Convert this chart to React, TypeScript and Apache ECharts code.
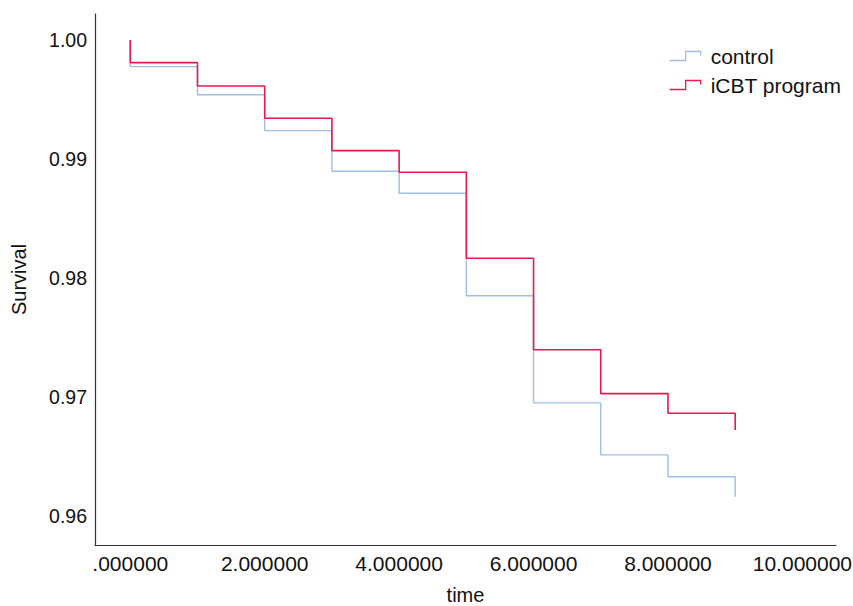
import React, { useEffect, useRef } from "react";
import * as echarts from "echarts";

const times = [0, 1, 2, 3, 4, 5, 6, 7, 8, 9];
const startSurvival = 1.0;
const controlSurvival = [0.99776, 0.9954, 0.99238, 0.98897, 0.98712, 0.97851, 0.9695, 0.96513, 0.9633, 0.96162];
const icbtSurvival = [0.99809, 0.99613, 0.99342, 0.9907, 0.98888, 0.98166, 0.97397, 0.97028, 0.96863, 0.96723];
const seriesNames = ["control", "iCBT program"];
const seriesColors = ["#a2bde6", "#e31b4e"];
const xAxisTitle = "time";
const yAxisTitle = "Survival";

const FONT = "'Liberation Sans', Arial, Helvetica, sans-serif";
const LEGEND_ICON = "path://M0,9L16,9L16,0L31,0L31,4";

function buildData(vals: number[]) {
  return [[0, startSurvival], ...times.map((t, i) => [t, vals[i]])];
}

export default function App() {
  const ref = useRef<HTMLDivElement>(null);
  useEffect(() => {
    if (!ref.current) return;
    const chart = echarts.init(ref.current, null, { renderer: "svg" });
    chart.setOption({
      animation: false,
      backgroundColor: "#ffffff",
      textStyle: { fontFamily: FONT },
      grid: { left: 95, right: 17, top: 14, bottom: 61, containLabel: false, outerBoundsMode: "none" },
      legend: {
        orient: "vertical",
        left: 669,
        top: 45,
        padding: 0,
        itemWidth: 31,
        itemHeight: 9,
        itemGap: 7,
        textStyle: { fontFamily: FONT, fontSize: 21, color: "#111", lineHeight: 22, padding: [0, 0, 0, 5] },
        data: seriesNames.map((n, i) => ({
          name: n,
          icon: LEGEND_ICON,
          itemStyle: { color: "rgba(0,0,0,0)", borderColor: seriesColors[i], borderWidth: 1.3 },
        })),
      },
      xAxis: {
        type: "value",
        min: -0.525,
        max: 10.5,
        splitNumber: 5,
        name: xAxisTitle,
        nameLocation: "middle",
        nameGap: 40,
        nameTextStyle: { fontFamily: FONT, fontSize: 20, lineHeight: 20, color: "#111" },
        axisLine: { show: true, onZero: false, lineStyle: { color: "#333", width: 1.2 } },
        axisTick: { show: false },
        splitLine: { show: false },
        axisLabel: {
          showMinLabel: false,
          showMaxLabel: false,
          margin: 8,
          fontFamily: FONT,
          fontSize: 21,
          color: "#111",
          formatter: (v: number) => {
            if (Math.abs(v / 2 - Math.round(v / 2)) > 1e-6) return "";
            return v === 0 ? ".000000" : v.toFixed(6);
          },
        },
      },
      yAxis: {
        type: "value",
        min: 0.95756,
        max: 1.00218,
        splitNumber: 5,
        name: yAxisTitle,
        nameLocation: "middle",
        nameGap: 66,
        nameTextStyle: { fontFamily: FONT, fontSize: 20, color: "#111" },
        axisLine: { show: true, onZero: false, lineStyle: { color: "#333", width: 1.2 } },
        axisTick: { show: false },
        splitLine: { show: false },
        axisLabel: {
          showMinLabel: false,
          showMaxLabel: false,
          margin: 8,
          fontFamily: FONT,
          fontSize: 19.5,
          color: "#111",
          formatter: (v: number) => {
            const k = v * 100;
            if (Math.abs(k - Math.round(k)) > 1e-6) return "";
            return v.toFixed(2);
          },
        },
      },
      series: [
        {
          name: seriesNames[0],
          type: "line",
          step: "end",
          symbol: "none",
          showSymbol: false,
          color: seriesColors[0],
          lineStyle: { color: seriesColors[0], width: 1.4 },
          data: buildData(controlSurvival),
        },
        {
          name: seriesNames[1],
          type: "line",
          step: "end",
          symbol: "none",
          showSymbol: false,
          color: seriesColors[1],
          lineStyle: { color: seriesColors[1], width: 1.6 },
          data: buildData(icbtSurvival),
        },
      ],
    });
    return () => chart.dispose();
  }, []);
  return <div ref={ref} style={{ width: 853, height: 606, position: "absolute", left: 0, top: 0 }} />;
}
